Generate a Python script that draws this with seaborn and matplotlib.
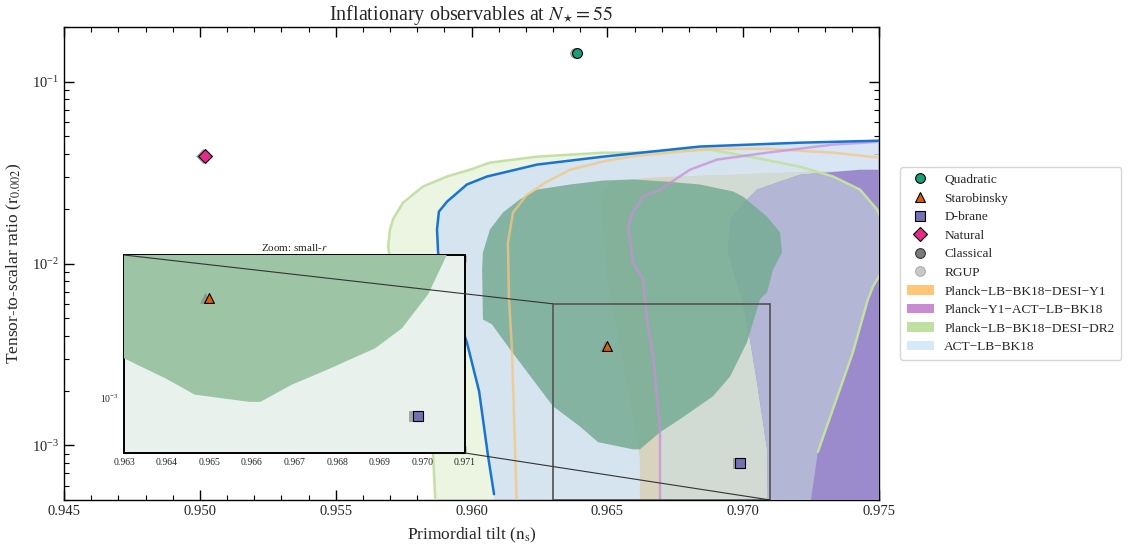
import numpy as np
import pandas as pd
import matplotlib
matplotlib.use("Agg")
import matplotlib.pyplot as plt
import seaborn as sns
from matplotlib.lines import Line2D
from matplotlib.patches import Patch
from matplotlib.ticker import MultipleLocator, FormatStrFormatter, LogLocator, NullFormatter
from mpl_toolkits.axes_grid1.inset_locator import mark_inset

# ---------------- data ----------------
model_names = ["Quadratic", "Starobinsky", "D-brane", "Natural"]
model_ns = [0.9639, 0.9650, 0.9699, 0.9502]
model_r = [0.144, 0.0035, 0.00080, 0.0392]
classical_ns = [0.96381, 0.96491, 0.96981, 0.95011]
model_markers = ["o", "^", "s", "D"]
model_colors = ["#1b9e77", "#d95f02", "#7570b3", "#e7298a"]

# Planck-LB-BK18-DESI-DR2, 95% region (green)
g95_ns = [0.95870, 0.95858, 0.95755, 0.95693, 0.95700, 0.95711, 0.95748, 0.95821,
          0.95910, 0.95994, 0.96068, 0.96241, 0.96484, 0.96583, 0.96878, 0.97025,
          0.97209, 0.97331, 0.97430, 0.97493, 0.97559, 0.97478, 0.97459, 0.97404,
          0.97275, 0.97240]
g95_r = [4.0e-4, 9.2e-4, 0.00337, 0.0124, 0.0154, 0.0175, 0.0216, 0.0265,
         0.0301, 0.0328, 0.0359, 0.0387, 0.0407, 0.0407, 0.0423, 0.0387,
         0.0341, 0.0301, 0.0255, 0.0198, 0.0120, 0.00748, 0.00634, 0.00325,
         9.2e-4, 4.0e-4]

# Planck-LB-BK18-DESI-DR2, 68% region (dark green)
g68_ns = [0.96042, 0.96039, 0.96042, 0.96068, 0.96116, 0.96178, 0.96241, 0.96363,
          0.96484, 0.96594, 0.96720, 0.96841, 0.96963, 0.97000, 0.97088, 0.97136,
          0.97143, 0.97110, 0.97088, 0.97062, 0.97014, 0.96952, 0.96889, 0.96767,
          0.96694, 0.96620, 0.96594, 0.96466, 0.96399, 0.96300, 0.96142, 0.96075]
g68_r = [0.00492, 0.00927, 0.0115, 0.0154, 0.0191, 0.0225, 0.0255, 0.0272,
         0.0286, 0.0290, 0.0282, 0.0272, 0.0249, 0.0233, 0.0181, 0.0148,
         0.0115, 0.00927, 0.00693, 0.00634, 0.00368, 0.00239, 0.00186, 0.00139,
         0.00118, 0.00095, 0.00095, 0.00104, 0.00127, 0.00164, 0.00337, 0.00463]

# ACT-LB-BK18 (blue outline and light-blue region)
act_ns = [0.96083, 0.96061, 0.96028, 0.95983, 0.95928, 0.95884, 0.95877, 0.95873,
          0.95880, 0.95910, 0.95983, 0.96057, 0.96241, 0.96484, 0.96841, 0.97209,
          0.97504, 0.97577]
act_r = [5.38e-4, 8.7e-4, 0.00198, 0.00368, 0.00634, 0.0103, 0.0115, 0.0154,
         0.0193, 0.0219, 0.0272, 0.0301, 0.0350, 0.0387, 0.0440, 0.0462,
         0.0474, 0.0474]
act_close_ns = [0.9770, 0.9770, 0.96085]
act_close_r = [0.0474, 3.0e-4, 3.0e-4]

# Planck-LB-BK18-DESI-Y1 (orange outline)
oy1_ns = [0.96167, 0.96149, 0.96138, 0.96134, 0.96153, 0.96204, 0.96278, 0.96363,
          0.96484, 0.96583, 0.96878, 0.97088, 0.97331, 0.97504]
oy1_r = [4.5e-4, 0.00337, 0.00634, 0.0130, 0.0191, 0.0239, 0.0282, 0.0328,
         0.0364, 0.0387, 0.0428, 0.0428, 0.0407, 0.0382]
# its inner region
o68_ns = [0.96620, 0.96620, 0.96609, 0.96547, 0.96499, 0.96484, 0.96473, 0.96521,
          0.96657, 0.96889, 0.97257, 0.97577, 0.97577]
o68_r = [4.0e-4, 8.4e-4, 0.00108, 0.00337, 0.00817, 0.0154, 0.0239, 0.0282,
         0.0297, 0.0305, 0.0320, 0.0320, 4.0e-4]

# Planck-Y1-ACT-LB-BK18 (purple outline)
pur_ns = [0.96694, 0.96694, 0.96668, 0.96646, 0.96631, 0.96594, 0.96576, 0.96594,
          0.96631, 0.96694, 0.96804, 0.96904, 0.97088, 0.97331, 0.97504]
pur_r = [4.5e-4, 0.00123, 0.00308, 0.00492, 0.00817, 0.0101, 0.0160, 0.0191,
         0.0233, 0.0255, 0.0328, 0.0373, 0.0407, 0.0451, 0.0468]
pur_close_ns = [0.9770, 0.9770, 0.96694]
pur_close_r = [0.0468, 4.0e-4, 4.0e-4]
# its inner region
p68_ns = [0.97091, 0.97088, 0.97051, 0.97025, 0.96996, 0.96981, 0.96944, 0.96952,
          0.97014, 0.97051, 0.97209, 0.97430, 0.97577, 0.97577]
p68_r = [4.0e-4, 0.00095, 0.00222, 0.00382, 0.00634, 0.00748, 0.0115, 0.0175,
         0.0225, 0.0255, 0.0308, 0.0328, 0.0328, 4.0e-4]

dataset_labels = ["Planck\u2212LB\u2212BK18\u2212DESI\u2212Y1",
                  "Planck\u2212Y1\u2212ACT\u2212LB\u2212BK18",
                  "Planck\u2212LB\u2212BK18\u2212DESI\u2212DR2",
                  "ACT\u2212LB\u2212BK18"]
dataset_colors = ["#ffc67a", "#c98bd4", "#c0e0a2", "#d6e9f9"]

x_lim = (0.945, 0.975)
y_lim = (5e-4, 0.2)
zoom_x = (0.963, 0.971)
zoom_y = (5e-4, 6e-3)

# ---------------- style ----------------
sns.set_theme(style="ticks")
plt.rcParams["font.family"] = ["Liberation Serif", "DejaVu Serif"]
plt.rcParams["mathtext.fontset"] = "stix"
plt.rcParams["xtick.direction"] = "in"
plt.rcParams["ytick.direction"] = "in"

fig = plt.figure(figsize=(11.32, 5.46), dpi=100)
ax = fig.add_axes([64 / 1132, 1 - 500 / 546, 815 / 1132, 473 / 546])
ax.set_yscale("log")


def draw_regions(a, inset=False):
    if inset:
        a.fill(g95_ns, g95_r, color="#e8f1ec", lw=0, zorder=1)
        a.fill(g68_ns, g68_r, color="#9dc4a5", lw=0, zorder=7)
        return
    g95 = a.fill(g95_ns, g95_r, color="#ecf4e2", lw=0, zorder=1)[0]
    a.fill(act_ns + act_close_ns, act_r + act_close_r, color="#d1e1f2", alpha=0.84,
           lw=0, zorder=2)
    o68 = a.fill(o68_ns, o68_r, color="#d8d3bf", lw=0, zorder=3)[0]
    gray = a.fill(pur_ns + pur_close_ns, pur_r + pur_close_r, color="#d1dbd3", lw=0,
                  zorder=4)[0]
    gray.set_clip_path(o68)
    a.fill(p68_ns, p68_r, color="#9b8bcd", lw=0, zorder=5)
    lav = a.fill(p68_ns, p68_r, color="#b3b6d4", lw=0, zorder=6)[0]
    lav.set_clip_path(g95)
    a.fill(g68_ns, g68_r, color="#76ac94", alpha=0.85, lw=0, zorder=7)
    # outlines
    sns.lineplot(x=g95_ns[:-1], y=g95_r[:-1], sort=False, estimator=None, ax=a,
                 color="#c5e0a5", lw=1.8, zorder=8)
    sns.lineplot(x=oy1_ns, y=oy1_r, sort=False, estimator=None, ax=a,
                 color="#f5c67e", lw=1.8, alpha=0.75, zorder=9)
    sns.lineplot(x=pur_ns, y=pur_r, sort=False, estimator=None, ax=a,
                 color="#c98fd8", lw=1.8, alpha=0.75, zorder=9)
    sns.lineplot(x=act_ns, y=act_r, sort=False, estimator=None, ax=a,
                 color="#1874d2", lw=1.8, zorder=10)


def draw_points(a, idx):
    for i in idx:
        sns.scatterplot(x=[classical_ns[i]], y=[model_r[i]], marker=model_markers[i],
                        color="#8a8a8a", edgecolor="#8a8a8a", s=50, alpha=0.7,
                        ax=a, zorder=11, legend=False)
        sns.scatterplot(x=[model_ns[i]], y=[model_r[i]], marker=model_markers[i],
                        color=model_colors[i], edgecolor="black", linewidth=0.8,
                        s=50, ax=a, zorder=12, legend=False)


draw_regions(ax)
draw_points(ax, range(4))

ax.set_xlim(*x_lim)
ax.set_ylim(*y_lim)
ax.xaxis.set_major_locator(MultipleLocator(0.005))
ax.xaxis.set_minor_locator(MultipleLocator(0.001))
ax.xaxis.set_major_formatter(FormatStrFormatter("%.3f"))
ax.yaxis.set_major_locator(LogLocator(base=10, numticks=10))
ax.yaxis.set_minor_locator(LogLocator(base=10, subs=np.arange(2, 10), numticks=20))
ax.yaxis.set_minor_formatter(NullFormatter())
ax.tick_params(which="both", top=True, right=True, direction="in", labelsize=10.5,
               color="black")
ax.tick_params(which="major", length=7, width=1)
ax.tick_params(which="minor", length=3.5, width=0.8)
for s in ax.spines.values():
    s.set_color("black")
    s.set_linewidth(1.0)
ax.set_xlabel("Primordial tilt ($\\mathrm{n_s}$)", fontsize=12.5, labelpad=6)
ax.set_ylabel("Tensor-to-scalar ratio ($\\mathrm{r_{0.002}}$)", fontsize=12.5, labelpad=6)
ax.set_title("Inflationary observables at $N_{\\star} = 55$", fontsize=14.5, pad=5)

# ---------------- inset ----------------
axins = fig.add_axes([124 / 1132, 1 - 453 / 546, 341 / 1132, 198 / 546])
axins.set_yscale("log")
draw_regions(axins, inset=True)
draw_points(axins, [1, 2])
axins.set_xlim(*zoom_x)
axins.set_ylim(*zoom_y)
axins.xaxis.set_major_locator(MultipleLocator(0.001))
axins.xaxis.set_major_formatter(FormatStrFormatter("%.3f"))
axins.yaxis.set_major_locator(LogLocator(base=10, numticks=10))
axins.yaxis.set_minor_locator(LogLocator(base=10, subs=np.arange(2, 10), numticks=20))
axins.yaxis.set_minor_formatter(NullFormatter())
axins.tick_params(which="both", top=True, right=True, direction="in", labelsize=7,
                  color="black")
axins.tick_params(which="major", length=5, width=1)
axins.tick_params(which="minor", length=3, width=0.8)
axins.set_xlabel("")
axins.set_ylabel("")
for s in axins.spines.values():
    s.set_color("black")
    s.set_linewidth(1.4)
axins.set_title("Zoom: small-$r$", fontsize=8, pad=3)

pp, p1, p2 = mark_inset(ax, axins, loc1=2, loc2=4, fc="none", ec="#5a5a5a", lw=1.3)
pp.set_zorder(20)
for p in (p1, p2):
    p.set_edgecolor("#333333")
    p.set_linewidth(0.8)
    p.set_zorder(20)

# ---------------- legend ----------------
handles = []
for i in range(4):
    handles.append(Line2D([], [], ls="none", marker=model_markers[i], markersize=7,
                          markerfacecolor=model_colors[i], markeredgecolor="black",
                          markeredgewidth=0.8, label=model_names[i]))
handles.append(Line2D([], [], ls="none", marker="o", markersize=7,
                      markerfacecolor="#7a7a7a", markeredgecolor="#333333",
                      markeredgewidth=0.8, label="Classical"))
handles.append(Line2D([], [], ls="none", marker="o", markersize=7,
                      markerfacecolor="#c8c8c8", markeredgecolor="#b0b0b0",
                      markeredgewidth=0.8, label="RGUP"))
for lab, col in zip(dataset_labels, dataset_colors):
    handles.append(Patch(facecolor=col, edgecolor="none", label=lab))
leg = ax.legend(handles=handles, loc="center left", bbox_to_anchor=(1.018, 0.5),
                fontsize=9.6, labelspacing=0.47, handlelength=2.0, frameon=True,
                borderpad=0.5, handletextpad=0.8)
leg.get_frame().set_edgecolor("#cccccc")

fig.savefig("out.png", dpi=100)
